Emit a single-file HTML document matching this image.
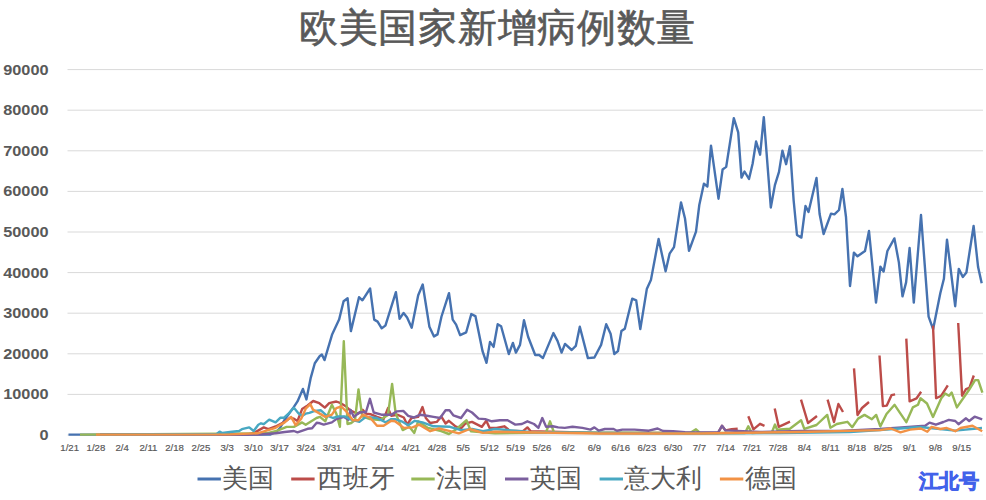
<!DOCTYPE html>
<html><head><meta charset="utf-8"><style>
html,body{margin:0;padding:0;background:#fff;}
body{width:986px;height:500px;overflow:hidden;position:relative;}
svg{position:absolute;left:0;top:0;}
.title{font-family:"Liberation Serif",serif;font-size:39px;letter-spacing:0.72px;fill:#595959;stroke:#595959;stroke-width:0.6px;}
.yl{font-family:"Liberation Sans",sans-serif;font-size:15.4px;font-weight:bold;fill:#595959;text-anchor:end;}
.xl{font-family:"Liberation Sans",sans-serif;font-size:9.6px;fill:#595959;stroke:#595959;stroke-width:0.2px;text-anchor:middle;}
.lg{font-family:"Liberation Serif",serif;font-size:26px;fill:#595959;}
.wm{font-family:"Liberation Sans",sans-serif;font-size:20px;font-weight:900;fill:#4262EA;}
</style></head><body>
<svg width="986" height="500" viewBox="0 0 986 500">
<text class="title" x="299" y="41">欧美国家新增病例数量</text>
<g stroke="#D9D9D9" stroke-width="1"><line x1="67.5" y1="435.0" x2="983" y2="435.0"/><line x1="67.5" y1="394.4" x2="983" y2="394.4"/><line x1="67.5" y1="353.8" x2="983" y2="353.8"/><line x1="67.5" y1="313.2" x2="983" y2="313.2"/><line x1="67.5" y1="272.6" x2="983" y2="272.6"/><line x1="67.5" y1="232.0" x2="983" y2="232.0"/><line x1="67.5" y1="191.4" x2="983" y2="191.4"/><line x1="67.5" y1="150.8" x2="983" y2="150.8"/><line x1="67.5" y1="110.2" x2="983" y2="110.2"/><line x1="67.5" y1="69.6" x2="983" y2="69.6"/></g>
<g class="yl"><text transform="translate(48.6,439.9) scale(1.06,1)">0</text><text transform="translate(48.6,399.3) scale(1.06,1)">10000</text><text transform="translate(48.6,358.7) scale(1.06,1)">20000</text><text transform="translate(48.6,318.1) scale(1.06,1)">30000</text><text transform="translate(48.6,277.5) scale(1.06,1)">40000</text><text transform="translate(48.6,236.9) scale(1.06,1)">50000</text><text transform="translate(48.6,196.3) scale(1.06,1)">60000</text><text transform="translate(48.6,155.7) scale(1.06,1)">70000</text><text transform="translate(48.6,115.1) scale(1.06,1)">80000</text><text transform="translate(48.6,74.5) scale(1.06,1)">90000</text></g>
<g class="xl"><text x="69.7" y="450.9">1/21</text><text x="95.9" y="450.9">1/28</text><text x="122.2" y="450.9">2/4</text><text x="148.4" y="450.9">2/11</text><text x="174.6" y="450.9">2/18</text><text x="200.9" y="450.9">2/25</text><text x="227.1" y="450.9">3/3</text><text x="253.4" y="450.9">3/10</text><text x="279.6" y="450.9">3/17</text><text x="305.8" y="450.9">3/24</text><text x="332.1" y="450.9">3/31</text><text x="358.3" y="450.9">4/7</text><text x="384.5" y="450.9">4/14</text><text x="410.8" y="450.9">4/21</text><text x="437.0" y="450.9">4/28</text><text x="463.2" y="450.9">5/5</text><text x="489.5" y="450.9">5/12</text><text x="515.7" y="450.9">5/19</text><text x="541.9" y="450.9">5/26</text><text x="568.2" y="450.9">6/2</text><text x="594.4" y="450.9">6/9</text><text x="620.7" y="450.9">6/16</text><text x="646.9" y="450.9">6/23</text><text x="673.1" y="450.9">6/30</text><text x="699.4" y="450.9">7/7</text><text x="725.6" y="450.9">7/14</text><text x="751.8" y="450.9">7/21</text><text x="778.1" y="450.9">7/28</text><text x="804.3" y="450.9">8/4</text><text x="830.5" y="450.9">8/11</text><text x="856.8" y="450.9">8/18</text><text x="883.0" y="450.9">8/25</text><text x="909.3" y="450.9">9/1</text><text x="935.5" y="450.9">9/8</text><text x="961.7" y="450.9">9/15</text></g>
<g fill="none" stroke-width="2.4" stroke-linejoin="round" stroke-linecap="butt"><polyline stroke="#4672B0" points="68.5,434.6 270,434.6 276,432 280,428 284.7,419.6 289.3,413.2 293.9,406.9 297.5,401.4 302.9,388.9 306.4,399.4 310.6,378.4 314.8,363.2 319.8,356 321.9,354.6 324.5,360.1 332,334.8 339.1,319.6 343.6,301.3 347.6,298.3 350.9,331.1 359,297.2 362.4,300.3 370.1,288.5 374.2,319.6 377.6,321.6 381.7,328.3 385.4,325.6 395.9,292.2 399.6,318.9 403.6,312.9 407.1,317.5 411.7,327.7 418.2,295.2 422.7,284.5 429.4,326.7 434,336.4 437.5,334.4 441.5,316.5 449,293.2 452.7,319.6 456.1,324.6 460.1,335.2 466.2,332.3 471.3,314.1 475.4,316.1 482.5,351 486.5,362.8 490,341.9 493.6,346.9 497.7,324.2 501.1,326.2 508.8,354 512.9,342.9 515.9,352.6 520,344.9 524,320.2 528.1,336.8 535.2,355 539.2,355 542.9,358.1 553.4,333.1 557.5,340.9 561.6,352.6 565,343.9 571.7,350 575.8,345.9 579.8,326.7 587.9,358.1 594.4,357.5 601.1,344.9 606.2,324.2 610.6,333.8 614.3,354 618,351 621.4,331.1 624.8,328.7 632.2,298.7 636.2,300.3 640.3,329.1 646.8,289.1 650.9,280.1 658.6,239 665.6,271.3 669.6,253.7 674,247.1 681,202.4 685,218.5 689,250.8 696,231.7 699.3,205 703.9,183.7 707.4,186.5 711,145.6 718.5,198.7 722.6,169.5 726.2,166.9 733.8,118.2 738.2,132.4 741.5,177.6 744.5,171.5 749,179 752.6,163.8 756.1,141.5 760.1,154.7 763.8,117.2 770.8,207.5 774.9,185.1 779,171.9 782.4,150.6 786.1,164.2 789.9,146.2 793.6,200 797,235 801.4,237.6 805.5,206 808.5,212 816.5,178 819.6,214 823.6,234 831,213.6 834.4,214.4 839,210 842.4,189 846,217 850,286 853.9,252.7 857.5,256.3 865,251 869,231 876,302.6 880.4,266.6 883.6,271.6 887.4,251 894.4,238.4 898.9,262.6 902.5,296.4 906.1,282.4 909.6,248 913.8,302.6 921,215 928.6,316.6 933.1,329.2 940.3,293.2 943.9,278.8 947,239.6 955.2,306.2 958.8,268.9 962.8,277 966.4,272.5 973.6,226 978.1,267.1 981.7,283.3"/><polyline stroke="#BC4C49" points="100,434.6 248.2,434.4 255,432.4 263.8,427.4 268.3,429.2 275.6,426.5 284.7,421.9 290.2,417.8 293.9,418.7 297.5,421 302.1,409.1 307.6,405.5 313.2,401 319.3,403.2 324.8,407.6 329.2,403.2 336.3,401.5 340.7,403.2 346.2,406.5 350.1,410.3 355,412.5 358.3,413.6 362.7,409.8 366,413.6 370.4,414.2 377,416.9 383.6,419.1 388,408.1 391.3,415.8 397.2,414.7 403.8,417.5 407.1,424.6 411.5,418 418.1,416.9 422.5,407 425.8,418 430.2,423 436.8,421.9 441.2,416.4 445.6,423.5 448.9,420.8 455.5,426.3 461,428.5 465.4,423.5 472,421.9 481.9,426.8 486.3,420.8 489.6,427.9 496.6,427.9 504.3,426.3 509.8,430.7 523,431.2 527.4,427.4 530.7,431.2 560,432 600,433 700,433 718,433 722,425.8 725.5,430.4 731.6,429.3 737.7,428.8"/><polyline stroke="#BC4C49" points="748.3,416.2 753.4,429.3 760,423.8 764.5,425.8"/><polyline stroke="#BC4C49" points="774.7,408.5 778.7,426.8 785.3,423.8 790,421.7"/><polyline stroke="#BC4C49" points="801,399.6 808,423 817,416"/><polyline stroke="#BC4C49" points="827.6,399.6 834,422 838.4,404 843,412"/><polyline stroke="#BC4C49" points="854,368.4 857.5,415 862,408 869,402"/><polyline stroke="#BC4C49" points="879.5,355.5 882.9,406.1 886.8,405.6 891.5,395.2 895.1,394.4"/><polyline stroke="#BC4C49" points="906.3,338.6 909.6,401.4 916.6,398.3 921.1,391.8"/><polyline stroke="#BC4C49" points="933,325.6 936.1,398.3 941.3,395.7 947.8,385.3"/><polyline stroke="#BC4C49" points="958.2,323 962.1,395.7 966,389.2 969.4,387.9 973.8,375.5"/><polyline stroke="#97B857" points="80,434.6 266.5,433.3 277.4,430.6 286.6,426.9 293.9,426.9 302.1,422.4 305.7,424.7 316.5,418 320,416.9 325.3,421.3 331.9,404.8 336.3,413.6 339.9,426.8 343.8,341.2 347.5,424 351.2,423 355,420 358.5,389.5 362.2,416.4 370,419 380,420 388,415 392.1,383.9 395.7,413.6 402.7,430.1 409.3,426.8 414.3,432.9 418.1,421.3 428,427.9 441.2,431.2 448.9,434 456.6,429 466.5,420.2 470.9,431.2 483,432.3 495,433.4 546,432.5 550,421.3 554,432.5 690,433 696,429.3 700,433 745,433 748.3,426.3 752,433 772,432 775,424.5 777.1,429.8 789.9,428.8 801.1,420.2 804.3,428.8 816.5,425 827.2,414.9 830.4,427.7 836.8,424 847.4,421.8 852.2,427.2 858.1,418.6 864.5,414.9 871.9,419.2 876.2,414.9 880.3,426.4 886.5,414 894.6,404.8 899.8,412.6 906.3,422.2 912.8,407.4 918,404.8 920.5,398.3 927,403.5 933,417 941.3,398.3 945.2,393.6 949.1,395.7 951.7,392.6 956.9,407.4 968.6,390.5 975.1,380.1 978.2,380.1 982.4,392.6"/><polyline stroke="#7B5F9E" points="100,434.6 257.4,434.6 275.6,433.3 284.7,432 293.9,431 297.5,432.4 307.6,428.8 312.1,428.3 316.7,422.8 320,423.3 323.7,424.6 331.9,422.4 336.3,419.1 344,416.9 348.4,419.7 350.6,409.8 353.9,416.9 359.4,412.5 366,412 369.9,398.8 373.7,412.5 381.4,414.7 391.3,414.7 396.8,411.4 403.3,410.9 408.2,415.8 413.7,417.5 420.3,414.7 426.9,415.8 433.5,416.9 440.1,418 445.6,410.3 449.5,410.3 453.3,415.3 461,418 467.1,409.8 472,412.5 478.6,418.6 485.2,419.1 491.8,421.3 499.9,420.2 507.6,420.2 515.3,424.6 521.9,424 527.4,421.3 534,424 538.4,427.9 542.3,418 546.1,426.8 552.7,426.3 558.2,427.4 564.8,427.9 572.5,426.8 582.4,427.9 590.5,429.6 594.4,427.4 598.8,430.7 604.8,429 613.6,429 616.9,430.7 622.4,429.6 634.5,429.6 648.8,430.7 657.6,428.5 663.1,431 673,431.2 685,432.3 718,432.5 722,425.8 725.5,430.4 760,432 800,431 840,431 880,429 901.5,427.4 925.2,425.8 929.5,422.6 935.9,424.7 943.4,422 948.8,419.9 955.3,421 958.5,424.2 966,418.3 969.2,421 974.6,416.7 982.2,419.4"/><polyline stroke="#48A8C2" points="100,434.6 216.8,434 219.6,431.6 222.4,433 230,432 239.1,431 241.9,429.2 249.2,427.4 253.7,431 258.3,424.7 261,423.3 263.8,424.2 269.2,419.6 275.6,422.4 280.2,417.8 283.8,417.8 289.3,412.8 293.9,407.8 298.4,413.2 302.1,416 305.7,413.7 309.4,412.8 313.4,411.3 320.9,410.3 326.4,415.3 333,418 338.5,416.4 345.1,416.4 349.5,419.1 359.4,421.9 366,416.9 377,418 385.8,422.4 391.3,419.1 395,419.1 401.6,421.3 408.2,425.2 414.8,420.8 422.5,422.4 433.5,426.3 450,426.8 461,430.1 472,429 483,431.2 495,429 530,432 600,433 700,433.5 780,433 850,432 880,430 920,427 955,430.6 982,428"/><polyline stroke="#F29245" points="96,434.6 230,434.4 257.4,433.3 275.6,427.8 284.7,422.4 291.1,416.9 295.7,425.1 301.2,418.7 305.7,408.7 310.3,404.1 313,409.6 319.8,413.6 325.3,416.9 331.9,414.7 336.3,408.1 341.3,406.5 346.2,411.4 352.8,420.2 358.3,420.2 362.7,414.7 370.4,418 377,425.7 383.6,425.7 391.3,420.8 395,421.3 403.8,427.9 412.6,427.4 419.2,424.6 430.2,431.2 439,428.5 450,431.2 458.8,433.4 469.8,429 483,432.9 495,431.8 600,433.5 700,433.5 800,432 880,430.1 890.8,428.5 900.4,432.3 910.1,429.6 920.9,428.5 927.3,431.7 931.6,426.9 940.2,429 946.7,428 955.3,431.2 960.6,428 972.5,425.8 982.2,431.2"/></g>
<g class="lg"><line x1="197.5" y1="479" x2="220.9" y2="479" stroke="#4672B0" stroke-width="3"/><text x="222" y="487">美国</text><line x1="291.2" y1="479" x2="314.59999999999997" y2="479" stroke="#BC4C49" stroke-width="3"/><text x="316.8" y="487">西班牙</text><line x1="411.3" y1="479" x2="434.7" y2="479" stroke="#97B857" stroke-width="3"/><text x="435.9" y="487">法国</text><line x1="505" y1="479" x2="528.4" y2="479" stroke="#7B5F9E" stroke-width="3"/><text x="529.6" y="487">英国</text><line x1="599.6" y1="479" x2="623.0" y2="479" stroke="#48A8C2" stroke-width="3"/><text x="624.1" y="487">意大利</text><line x1="719.9" y1="479" x2="743.3" y2="479" stroke="#F29245" stroke-width="3"/><text x="744.5" y="487">德国</text></g>
<text class="wm" x="918.5" y="488" stroke="#4262EA" stroke-width="0.8">江北号</text>
</svg>
</body></html>
